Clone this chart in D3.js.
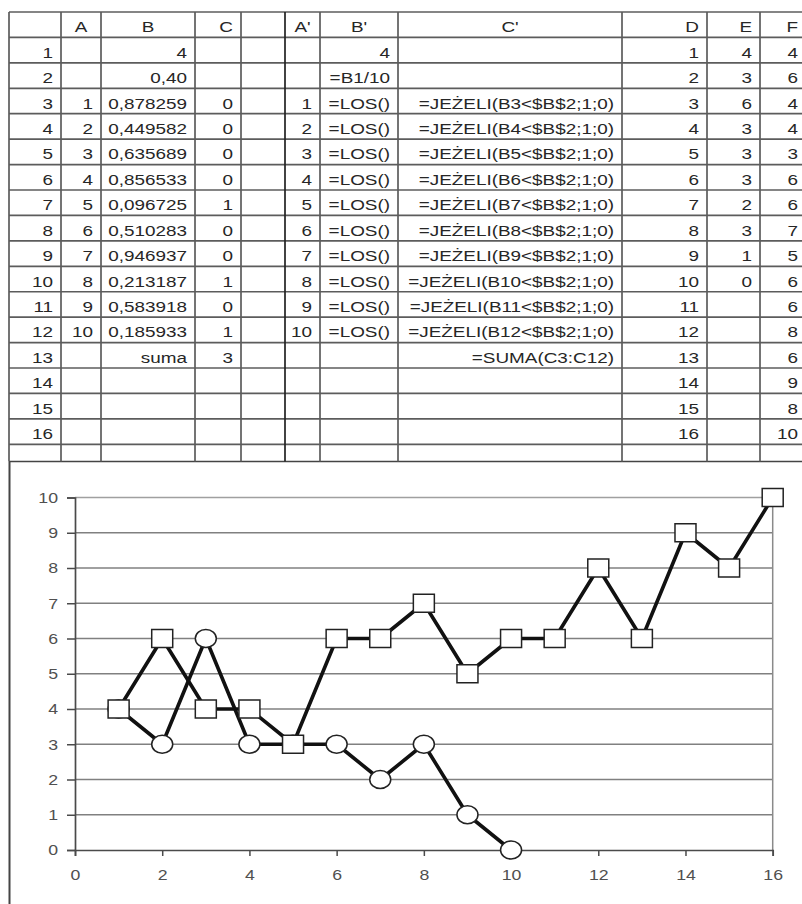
<!DOCTYPE html>
<html>
<head>
<meta charset="utf-8">
<script src="https://cdn.jsdelivr.net/npm/d3@7"></script>
<style>
  html, body { margin: 0; padding: 0; background: #fff; }
  svg { display: block; }
  text { font-family: "Liberation Sans", Arial, sans-serif; }
</style>
</head>
<body>
<svg id="sheet" width="802" height="904"></svg>
<script>
// ---- spreadsheet contents ----
const headers   = ["", "A", "B", "C", "", "A'", "B'", "C'", "D", "E", "F"];
const rowNums   = ["1","2","3","4","5","6","7","8","9","10","11","12","13","14","15","16"];
const colA      = ["","","1","2","3","4","5","6","7","8","9","10","","","",""];
const colB      = ["4","0,40","0,878259","0,449582","0,635689","0,856533","0,096725","0,510283",
                   "0,946937","0,213187","0,583918","0,185933","suma","","",""];
const colC      = ["","","0","0","0","0","1","0","0","1","0","1","3","","",""];
const colGap    = ["","","","","","","","","","","","","","","",""];
const colA2     = ["","","1","2","3","4","5","6","7","8","9","10","","","",""];
const colB2     = ["4","=B1/10","=LOS()","=LOS()","=LOS()","=LOS()","=LOS()","=LOS()",
                   "=LOS()","=LOS()","=LOS()","=LOS()","","","",""];
const colC2     = ["","",
                   "=JEŻELI(B3<$B$2;1;0)","=JEŻELI(B4<$B$2;1;0)","=JEŻELI(B5<$B$2;1;0)",
                   "=JEŻELI(B6<$B$2;1;0)","=JEŻELI(B7<$B$2;1;0)","=JEŻELI(B8<$B$2;1;0)",
                   "=JEŻELI(B9<$B$2;1;0)","=JEŻELI(B10<$B$2;1;0)","=JEŻELI(B11<$B$2;1;0)",
                   "=JEŻELI(B12<$B$2;1;0)","=SUMA(C3:C12)","","",""];
const colD      = [1,2,3,4,5,6,7,8,9,10,11,12,13,14,15,16];
const colE      = [4,3,6,3,3,3,2,3,1,0];
const colF      = [4,6,4,4,3,6,6,7,5,6,6,8,6,9,8,10];

// chart axis ticks
const xTicks = [0,2,4,6,8,10,12,14,16];
const yTicks = [0,1,2,3,4,5,6,7,8,9,10];

const svg = d3.select("#sheet");

// ---- table layout ----
const colEdges = [9, 61, 101, 195, 241, 285, 320, 398, 622, 707, 760, 806];
const headerAlign = ["end","middle","middle","end","end","middle","middle","middle","end","end","end"];
const tableTop = 12, rowH = 25.43;
const tableBottom = 461.5;
const stretch = 1.26;              // text is drawn horizontally widened
const pad = 8;

const columns = [rowNums, colA, colB, colC, colGap, colA2, colB2, colC2,
                 colD.map(String), colE.map(String).concat(d3.range(colD.length - colE.length).map(() => "")),
                 colF.map(String)];

const grid = svg.append("g").attr("stroke", "#5c5c5c").attr("stroke-width", 1.7);
// horizontal rules
const nRows = rowNums.length + 1;
d3.range(nRows + 1).forEach(i => {
  const y = tableTop + i * rowH;
  grid.append("line").attr("x1", colEdges[0]).attr("x2", 802).attr("y1", y).attr("y2", y);
});
grid.append("line").attr("x1", colEdges[0]).attr("x2", 802)
    .attr("y1", tableBottom).attr("y2", tableBottom).attr("stroke", "#444");
// vertical rules
colEdges.slice(0, -1).forEach((x, i) => {
  grid.append("line").attr("x1", x).attr("x2", x).attr("y1", tableTop).attr("y2", tableBottom)
      .attr("stroke", i === 5 ? "#222" : "#5c5c5c");
});

function cellText(str, colIdx, rowIdx, anchor) {
  if (!str) return;
  const x0 = colEdges[colIdx], x1 = colEdges[colIdx + 1];
  const x = anchor === "middle" ? (x0 + x1) / 2 : anchor === "end" ? x1 - pad : x0 + pad;
  const y = tableTop + rowIdx * rowH + 20.3;
  svg.append("text")
    .attr("transform", `translate(${x},${y}) scale(${stretch},1)`)
    .attr("text-anchor", anchor)
    .attr("font-size", 15)
    .attr("fill", "#262626")
    .text(str);
}

headers.forEach((h, c) => cellText(h, c, 0, headerAlign[c]));
columns.forEach((col, c) => col.forEach((v, r) => cellText(v, c, r + 1, "end")));

// ---- chart ----
// chart frame (left edge)
svg.append("line").attr("x1", 9.5).attr("x2", 9.5).attr("y1", tableBottom).attr("y2", 904)
   .attr("stroke", "#444").attr("stroke-width", 2);

const x = d3.scaleLinear().domain([0, 16]).range([75, 772.7]);
const y = d3.scaleLinear().domain([0, 10]).range([850, 497.5]);

// horizontal gridlines
svg.append("g").selectAll("line").data(yTicks.filter(d => d > 0)).join("line")
  .attr("x1", x(0)).attr("x2", x(16)).attr("y1", d => y(d)).attr("y2", d => y(d))
  .attr("stroke", d => d === 10 ? "#a0a0a0" : "#808080").attr("stroke-width", 1.5);
// right edge of plot area
svg.append("line").attr("x1", x(16)).attr("x2", x(16)).attr("y1", y(10)).attr("y2", y(0))
  .attr("stroke", "#8a8a8a").attr("stroke-width", 1.5);

// axes
const yAxis = svg.append("g").attr("transform", `translate(${x(0)},0)`)
  .call(d3.axisLeft(y).tickValues(yTicks).tickSize(8).tickPadding(9));
const xAxis = svg.append("g").attr("transform", `translate(0,${y(0)})`)
  .call(d3.axisBottom(x).tickValues(xTicks).tickSize(6).tickPadding(13));
[yAxis, xAxis].forEach(ax => {
  ax.select(".domain").attr("stroke", "#4a4a4a").attr("stroke-width", 1.7);
  ax.selectAll(".tick line").attr("stroke", "#4a4a4a").attr("stroke-width", 1.5);
  ax.selectAll(".tick text").attr("font-size", 15).attr("fill", "#505050")
    .attr("font-family", "Liberation Sans, Arial, sans-serif");
});
// widen tick labels around their anchor point
yAxis.selectAll(".tick text").each(function() {
  const t = d3.select(this);
  const tx = +t.attr("x");
  t.attr("x", null).attr("transform", `translate(${tx},0) scale(1.18,1)`);
});
xAxis.selectAll(".tick text").attr("transform", "scale(1.18,1)");

// series
const seriesE = colE.map((v, i) => ({ k: colD[i], v }));
const seriesF = colF.map((v, i) => ({ k: colD[i], v }));
const line = d3.line().x(d => x(d.k)).y(d => y(d.v));

[seriesE, seriesF].forEach(s => {
  svg.append("path").datum(s).attr("d", line)
    .attr("fill", "none").attr("stroke", "#111").attr("stroke-width", 3.6)
    .attr("stroke-linejoin", "round");
});

svg.append("g").selectAll("ellipse").data(seriesE).join("ellipse")
  .attr("cx", d => x(d.k)).attr("cy", d => y(d.v)).attr("rx", 10.5).attr("ry", 9)
  .attr("fill", "#fff").attr("stroke", "#222").attr("stroke-width", 1.5);

svg.append("g").selectAll("rect").data(seriesF).join("rect")
  .attr("x", d => x(d.k) - 10.5).attr("y", d => y(d.v) - 9).attr("width", 21).attr("height", 18)
  .attr("fill", "#fff").attr("stroke", "#222").attr("stroke-width", 1.5);
</script>
</body>
</html>
